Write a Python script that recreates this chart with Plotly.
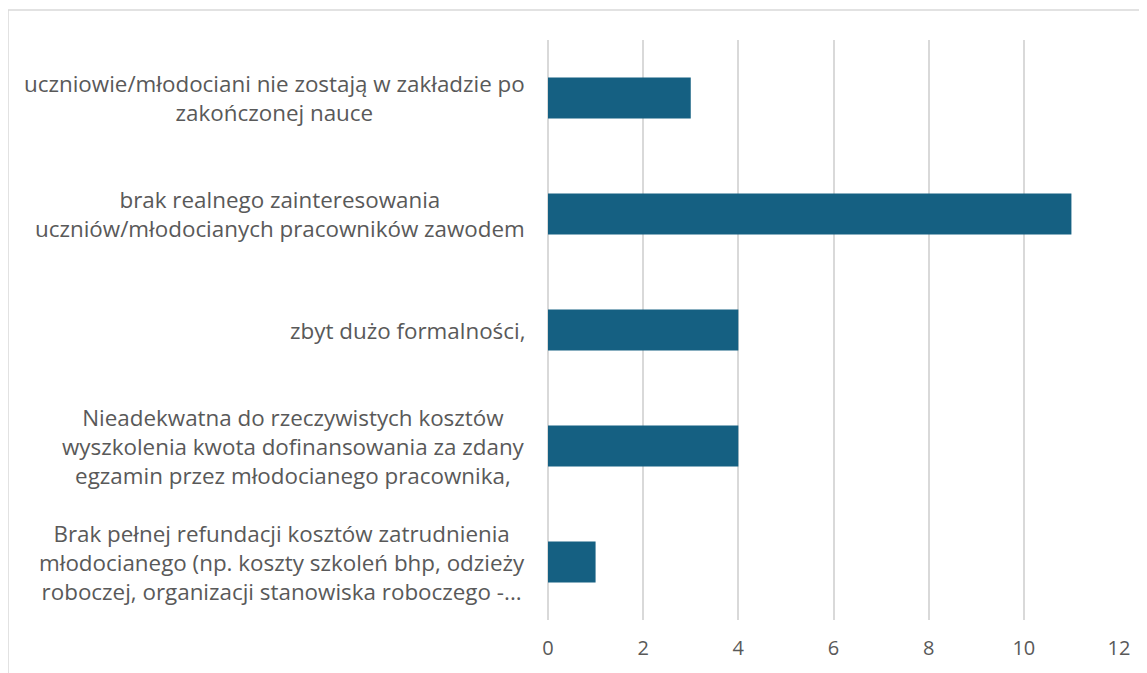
import plotly.graph_objects as go

categories = [
    "uczniowie/młodociani nie zostają w zakładzie po<br>zakończonej nauce",
    "brak realnego zainteresowania<br>uczniów/młodocianych pracowników zawodem",
    "zbyt dużo formalności,",
    "Nieadekwatna do rzeczywistych kosztów<br>wyszkolenia kwota dofinansowania za zdany<br>egzamin przez młodocianego pracownika,",
    "Brak pełnej refundacji kosztów zatrudnienia<br>młodocianego (np. koszty szkoleń bhp, odzieży<br>roboczej, organizacji stanowiska roboczego -...",
]
values = [3, 11, 4, 4, 1]
x_ticks = [0, 2, 4, 6, 8, 10, 12]

BAR = "#156082"
TXT = "#595959"
GRID = "#d9d9d9"
FONT = "Open Sans"

fig = go.Figure(go.Bar(
    x=values, y=list(range(len(categories))), orientation="h",
    marker=dict(color=BAR, line=dict(width=0)),
    width=0.353, hoverinfo="skip",
))

annotations = []
for i, lab in enumerate(categories):
    annotations.append(dict(
        xref="paper", yref="y", x=0, y=i, xanchor="right", yanchor="middle",
        xshift=-21, text=lab, showarrow=False, align="center",
        font=dict(family=FONT, size=22.4, color=TXT),
    ))

fig.update_layout(
    width=1147, height=673,
    margin=dict(l=540, r=36, t=32, b=61),
    paper_bgcolor="white", plot_bgcolor="white",
    showlegend=False,
    annotations=annotations,
    shapes=[dict(type="rect", xref="paper", yref="paper",
                 x0=-0.9457, x1=1.06, y0=-0.12, y1=1.0517,
                 line=dict(color=GRID, width=1.5), fillcolor="rgba(0,0,0,0)", layer="below")],
    xaxis=dict(range=[0, 12], tickvals=x_ticks, ticktext=[str(t) for t in x_ticks],
               showgrid=True, gridcolor=GRID, gridwidth=1.5,
               zeroline=True, zerolinecolor=GRID, zerolinewidth=1.5,
               showline=False, ticks="", ticklabelstandoff=14,
               tickfont=dict(family=FONT, size=20, color=TXT), fixedrange=True),
    yaxis=dict(range=[len(categories) - 0.5, -0.5], showticklabels=False,
               showgrid=False, zeroline=False, showline=False, ticks="", fixedrange=True),
)

fig.write_html("out.html")
